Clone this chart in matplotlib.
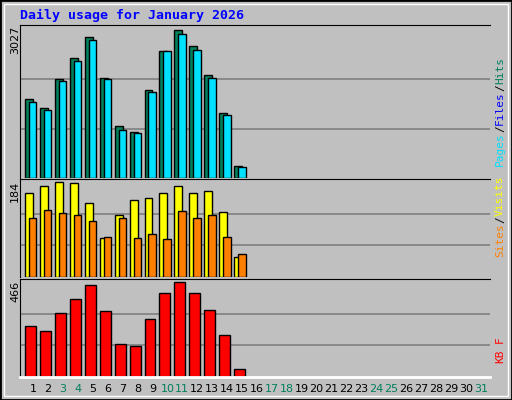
import matplotlib.pyplot as plt
from matplotlib.patches import Rectangle

days = list(range(1, 32))
hits = [1627, 1441, 2018, 2450, 2883, 2039, 1071, 947, 1812, 2595, 3027, 2698, 2100, 1338, 247]
files = [1565, 1400, 1977, 2389, 2821, 2018, 988, 927, 1771, 2595, 2945, 2615, 2039, 1297, 227]
visits = [163, 176, 184, 182, 144, 76, 120, 150, 154, 164, 176, 164, 168, 126, 39]
sites = [114, 130, 124, 120, 108, 78, 114, 76, 84, 74, 128, 114, 120, 78, 45]
kbytes = [253, 228, 315, 386, 452, 323, 162, 151, 284, 415, 466, 415, 328, 207, 37]
weekend = [3, 4, 10, 11, 17, 18, 24, 25, 31]

W, H = 512, 400
fig = plt.figure(figsize=(W / 100, H / 100), dpi=100, facecolor="#C0C0C0")
mono = "DejaVu Sans Mono"

# outer frame
fig.patches.append(Rectangle((0, 0), 1, 1, transform=fig.transFigure, fill=False,
                             edgecolor="black", lw=2))
fig.patches.append(Rectangle((4 / W, 4 / H), 1 - 8 / W, 1 - 8 / H, transform=fig.transFigure,
                             fill=False, edgecolor="white", lw=1))

def panel(top, bottom):
    ax = fig.add_axes([20 / W, 1 - bottom / H, 470 / W, (bottom - top) / H])
    ax.set_facecolor("#C0C0C0")
    ax.set_xlim(0.13, 31.6)
    ax.set_xticks([])
    ax.set_yticks([])
    for s in ax.spines.values():
        s.set_visible(False)
    ax.spines["top"].set_visible(True)
    ax.spines["left"].set_visible(True)
    ax.spines["top"].set_color("black")
    ax.spines["left"].set_color("black")
    return ax

def grid(ax, vmax):
    ax.set_ylim(0, vmax * 1.035)
    for f in (1 / 3, 2 / 3):
        ax.axhline(vmax * f, color="#808080", lw=1.2, zorder=0)

n = len(hits)
x = days[:n]

ax1 = panel(25, 178)
grid(ax1, max(hits))
ax1.bar([d - 0.53 for d in x], hits, width=0.53, align="edge", color="#00805C", edgecolor="black", lw=1)
ax1.bar([d - 0.27 for d in x], files, width=0.5, align="edge", color="#00E0FF", edgecolor="black", lw=1)

ax2 = panel(179, 277)
grid(ax2, max(visits))
ax2.bar([d - 0.53 for d in x], visits, width=0.53, align="edge", color="#FFFF00", edgecolor="black", lw=1)
ax2.bar([d - 0.27 for d in x], sites, width=0.5, align="edge", color="#FF8000", edgecolor="black", lw=1)

ax3 = panel(279, 377)
grid(ax3, max(kbytes))
ax3.bar([d - 0.53 for d in x], kbytes, width=0.73, align="edge", color="#FF0000", edgecolor="black", lw=1)
ax3.spines["bottom"].set_visible(True)
ax3.spines["bottom"].set_color("white")
ax3.spines["bottom"].set_linewidth(2)

for d in days:
    fig.text((33 + (d - 1) * 14.93) / W, 1 - 389 / H, str(d), ha="center", va="center",
             fontsize=8, color="#00805C" if d in weekend else "black")

fig.text(20 / W, 1 - 15 / H, "Daily usage for January 2026", color="#0000FF",
         fontsize=9.5, fontweight="bold", family=mono, va="center")
for y, v in ((26, max(hits)), (181, max(visits)), (281, max(kbytes))):
    fig.text(15 / W, 1 - y / H, str(v), rotation=90, ha="center", va="top", fontsize=8)

def rlabel(y, parts):
    # stacked rotated label on right, reading bottom to top
    yy = y
    for txt, col in parts:
        fig.text(500 / W, 1 - yy / H, txt, rotation=90, ha="center", va="bottom",
                 fontsize=8, family=mono, color=col)
        yy -= len(txt) * 6.8

rlabel(166, [("Pages", "#00E0FF"), ("/", "black"), ("Files", "#0000FF"), ("/", "black"), ("Hits", "#00805C")])
rlabel(257, [("Sites", "#FF8000"), ("/", "black"), ("Visits", "#FFFF00")])
rlabel(363, [("KB", "#FF0000"), (" ", "black"), ("F", "#FF0000")])

fig.savefig("out.png", dpi=100, facecolor=fig.get_facecolor())
